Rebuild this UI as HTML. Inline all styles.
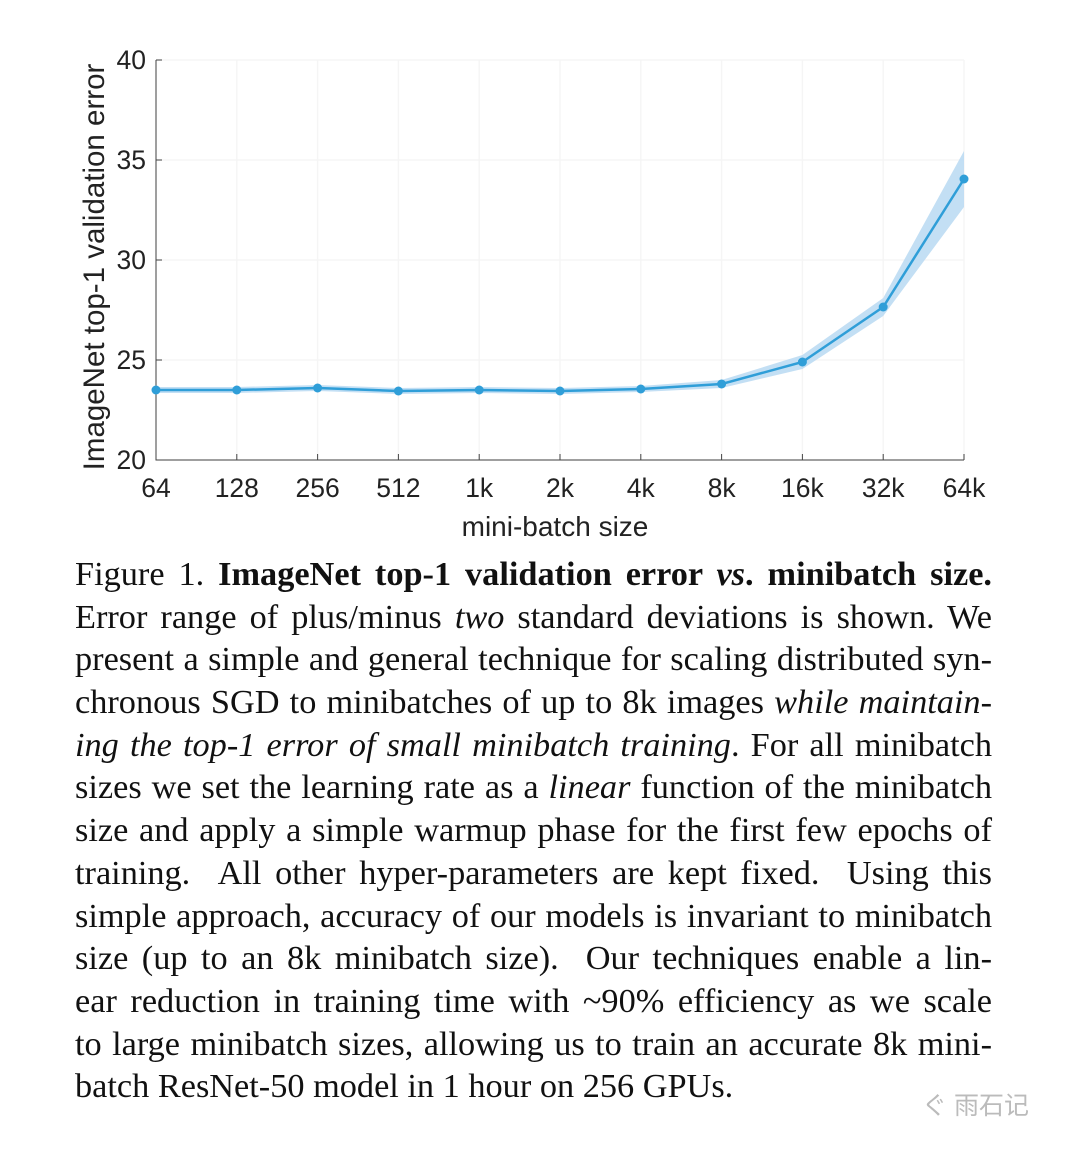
<!DOCTYPE html>
<html><head><meta charset="utf-8">
<style>
body{margin:0;background:#fff;width:1080px;height:1150px;overflow:hidden;position:relative}
.cap{position:absolute;left:75px;width:917px;font-family:"Liberation Serif",serif;font-size:34.3px;color:#111;line-height:42.7px;text-align:justify;text-align-last:justify;white-space:nowrap}
.cap div{height:42.7px;overflow:visible}
</style></head><body>
<svg width="1080" height="560" style="position:absolute;left:0;top:0">
<g id="grid"></g><g id="axes"></g><g id="band"></g><g id="series"></g><g id="labels"></g>
</svg>
<div class="cap" style="top:553px">
<div>Figure 1. <b>ImageNet top-1 validation error <i>vs</i>. minibatch size.</b></div>
<div>Error range of plus/minus <i>two</i> standard deviations is shown. We</div>
<div>present a simple and general technique for scaling distributed syn-</div>
<div>chronous SGD to minibatches of up to 8k images <i>while maintain-</i></div>
<div><i>ing the top-1 error of small minibatch training</i>. For all minibatch</div>
<div>sizes we set the learning rate as a <i>linear</i> function of the minibatch</div>
<div>size and apply a simple warmup phase for the first few epochs of</div>
<div>training. &nbsp;All other hyper-parameters are kept fixed. &nbsp;Using this</div>
<div>simple approach, accuracy of our models is invariant to minibatch</div>
<div>size (up to an 8k minibatch size). &nbsp;Our techniques enable a lin-</div>
<div>ear reduction in training time with ~90% efficiency as we scale</div>
<div>to large minibatch sizes, allowing us to train an accurate 8k mini-</div>
<div style="text-align:left;text-align-last:left">batch ResNet-50 model in 1 hour on 256 GPUs.</div>
</div>
<div style="position:absolute;left:922px;top:1086px;font-family:'Liberation Sans','Noto Sans CJK SC',sans-serif;font-size:25px;color:#bbb">ぐ 雨石记</div>
<script>
const categories=["64","128","256","512","1k","2k","4k","8k","16k","32k","64k"];
const errorValues=[23.5,23.5,23.6,23.45,23.5,23.45,23.55,23.8,24.9,27.65,34.05];
const errorSpread=[0.15,0.15,0.15,0.15,0.15,0.15,0.15,0.2,0.35,0.45,1.4];
const yTicks=[20,25,30,35,40];
const NS="http://www.w3.org/2000/svg";
const x0=156,dx=80.8,yBase=460,yScale=20;
function xs(i){return x0+i*dx}
function ys(v){return yBase-(v-20)*yScale}
function mk(t,a,p){const e=document.createElementNS(NS,t);for(const k in a)e.setAttribute(k,a[k]);document.getElementById(p).appendChild(e);return e}
const F="Liberation Sans, sans-serif";
categories.forEach((c,i)=>{
 const g=mk('line',{x1:xs(i),x2:xs(i),y1:ys(40),y2:ys(20),stroke:'#f5f5f5','stroke-width':1.5},'grid');
 
 
 const tk=mk('line',{x1:xs(i),x2:xs(i),y1:yBase,y2:yBase-6,stroke:'#444','stroke-width':1},'axes');
 
 
 const t=mk('text',{x:xs(i),y:497,'text-anchor':'middle','font-family':F,'font-size':26.5,fill:'#222'},'labels');t.textContent=c;
 
 
});
yTicks.forEach(v=>{
 const g=mk('line',{x1:x0,x2:xs(10),y1:ys(v),y2:ys(v),stroke:'#f5f5f5','stroke-width':1.5},'grid');
 
 
 const tk=mk('line',{x1:x0,x2:x0+6,y1:ys(v),y2:ys(v),stroke:'#444','stroke-width':1},'axes');
 
 
 const t=mk('text',{x:146,y:ys(v)+9,'text-anchor':'end','font-family':F,'font-size':26.5,fill:'#222'},'labels');t.textContent=v;
 
 
});
const ax=mk('path',{d:`M${x0} ${ys(40)}V${yBase}H${xs(10)}`,fill:'none',stroke:'#444','stroke-width':1},'axes');


let up=errorValues.map((v,i)=>`${xs(i)},${ys(v+errorSpread[i])}`);
let dn=errorValues.map((v,i)=>`${xs(i)},${ys(v-errorSpread[i])}`).reverse();
const b=mk('polygon',{points:up.concat(dn).join(' '),fill:'#bcdcf3',opacity:0.9},'band');


const l=mk('polyline',{points:errorValues.map((v,i)=>`${xs(i)},${ys(v)}`).join(' '),fill:'none',stroke:'#2f9ed8','stroke-width':2.5},'series');


errorValues.forEach((v,i)=>{
 const c=mk('circle',{cx:xs(i),cy:ys(v),r:4.5,fill:'#2f9ed8'},'series');
 
 
});
const xt=mk('text',{x:555,y:536,'text-anchor':'middle','font-family':F,'font-size':28,fill:'#222'},'labels');xt.textContent='mini-batch size';


const yt=mk('text',{x:0,y:0,transform:'translate(104,267) rotate(-90)','text-anchor':'middle','font-family':F,'font-size':29.5,fill:'#222'},'labels');yt.textContent='ImageNet top-1 validation error';


</script>
</body></html>
